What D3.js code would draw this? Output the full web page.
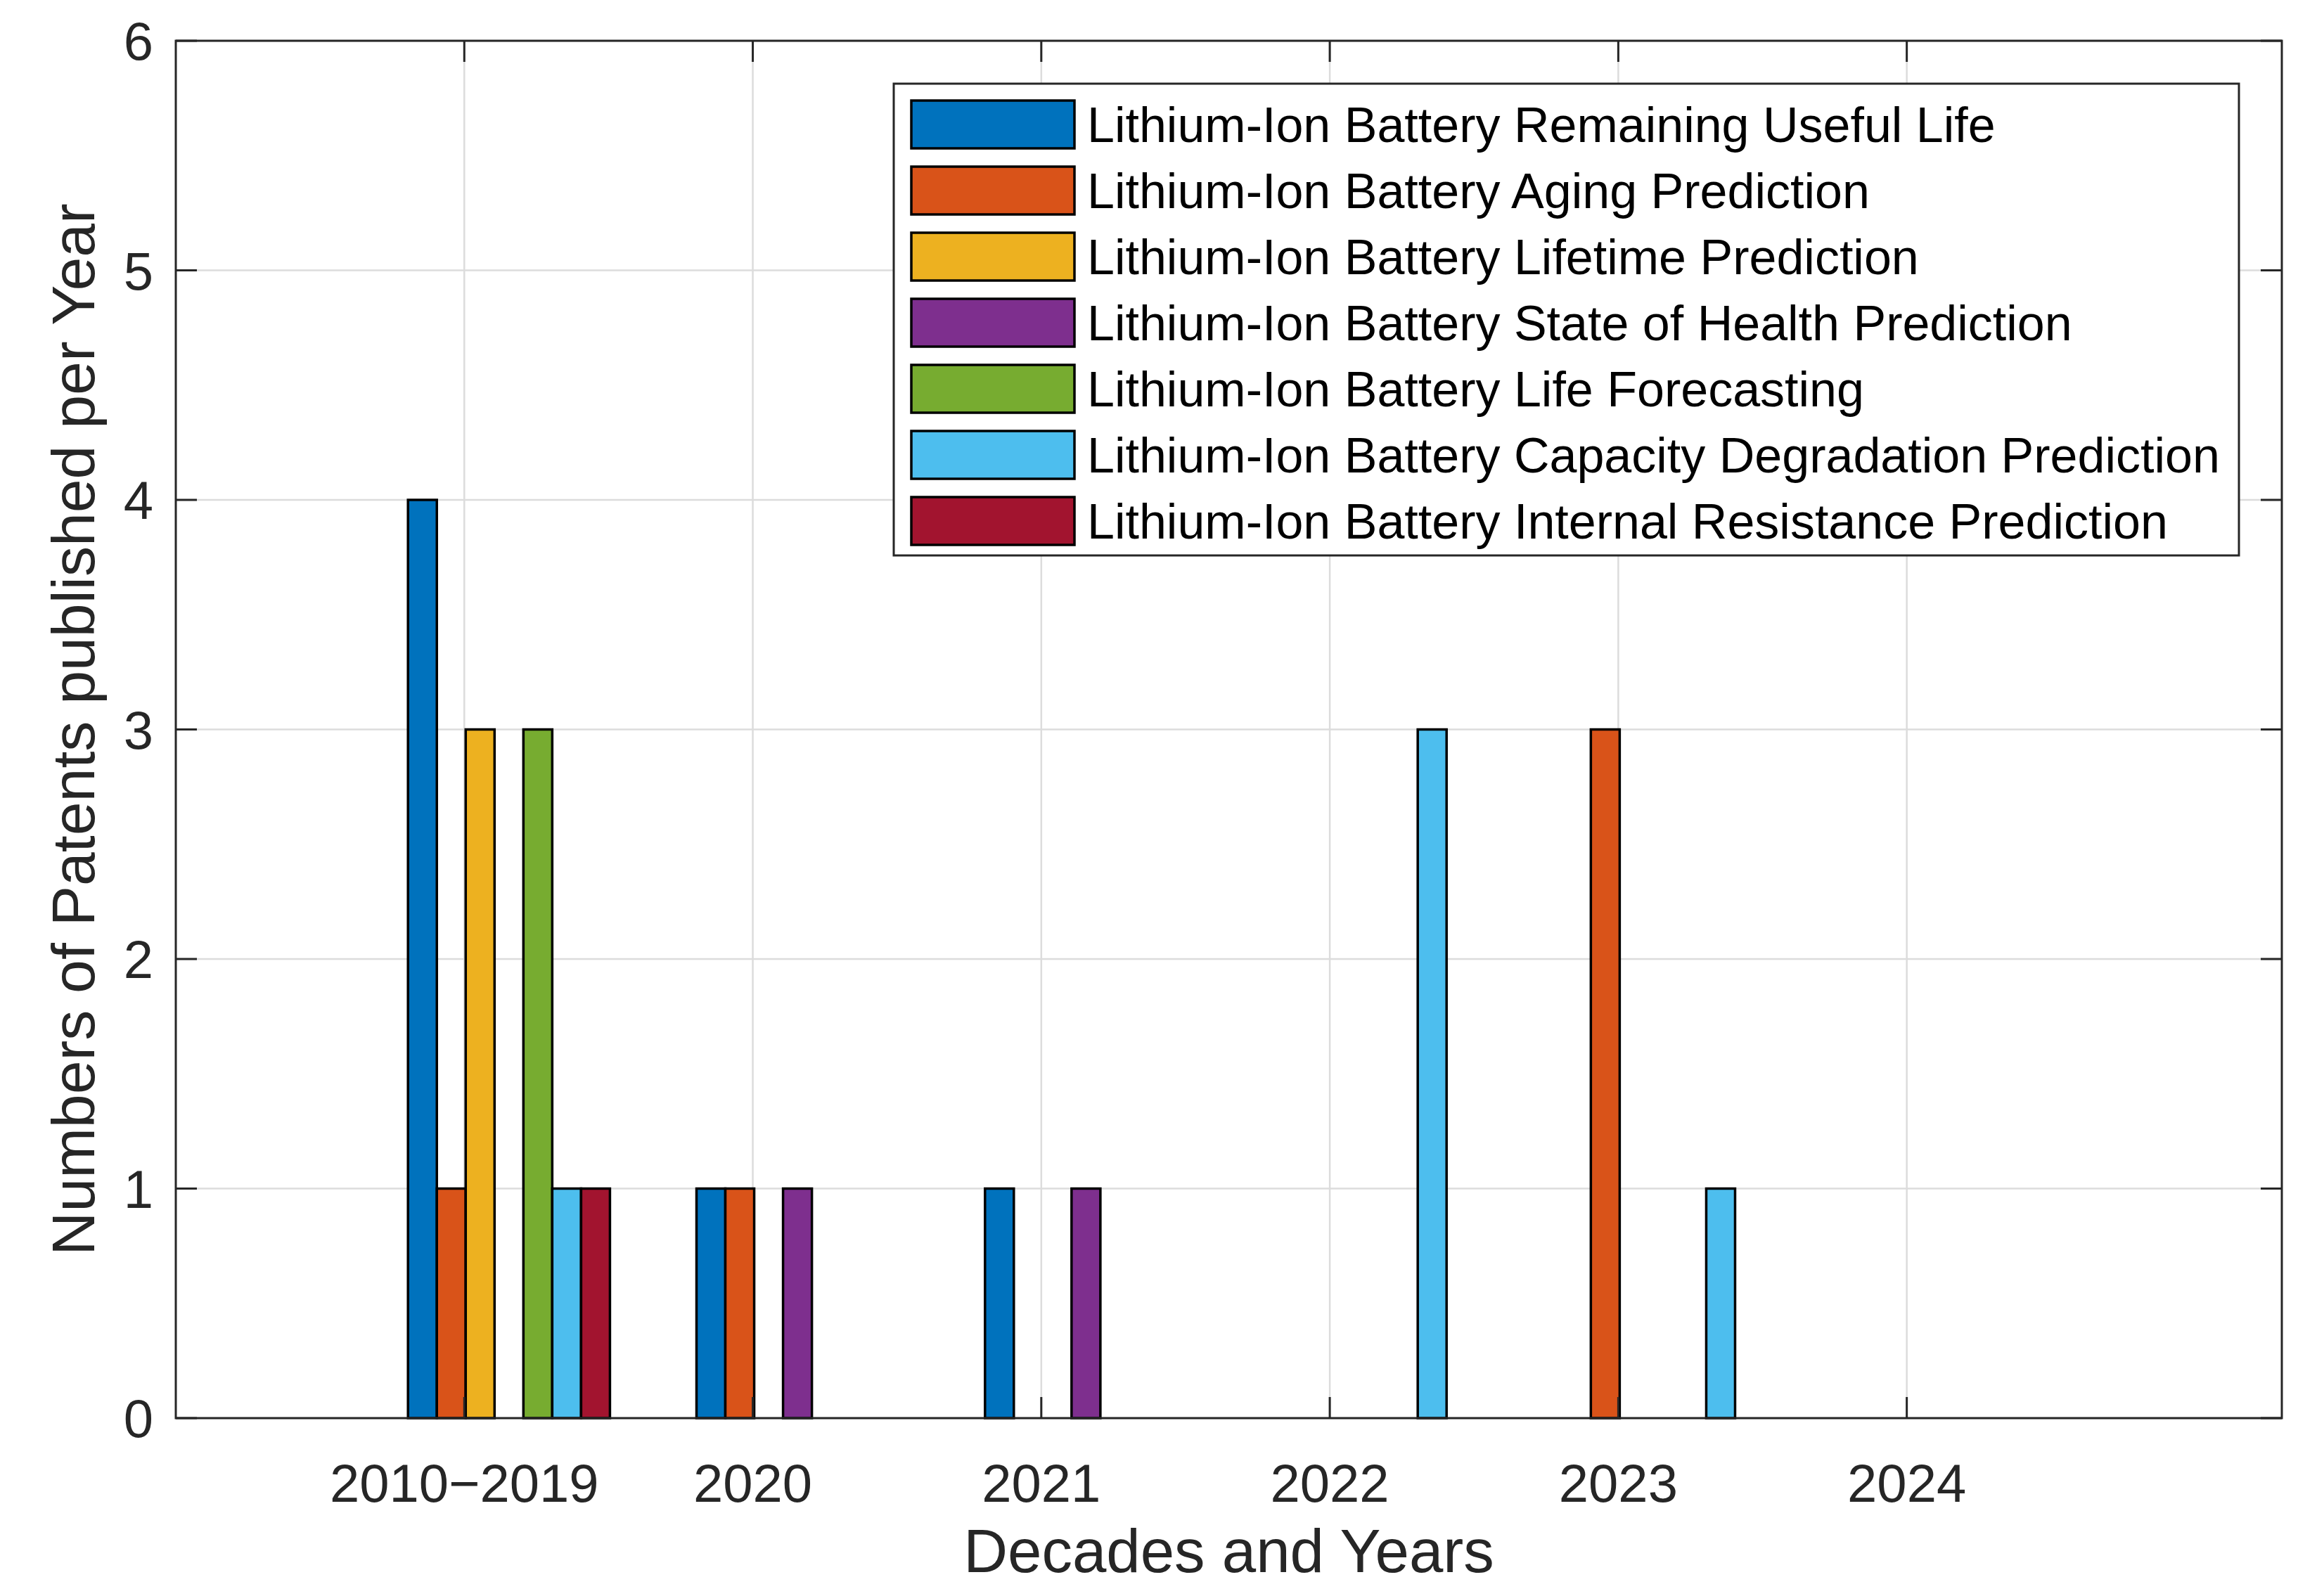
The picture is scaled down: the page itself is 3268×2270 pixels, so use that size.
<!DOCTYPE html>
<html>
<head>
<meta charset="utf-8">
<script src="https://cdn.jsdelivr.net/npm/d3@7"></script>
<style>
  html, body { margin: 0; padding: 0; background: #fff; }
  svg { display: block; font-family: "Liberation Sans", Arial, sans-serif; }
</style>
</head>
<body>
<svg id="chart" width="3268" height="2270"></svg>
<script>
// ---- data ----
const categories = ["2010\u22122019", "2020", "2021", "2022", "2023", "2024"];
const seriesNames = [
  "Lithium-Ion Battery Remaining Useful Life",
  "Lithium-Ion Battery Aging Prediction",
  "Lithium-Ion Battery Lifetime Prediction",
  "Lithium-Ion Battery State of Health Prediction",
  "Lithium-Ion Battery Life Forecasting",
  "Lithium-Ion Battery Capacity Degradation Prediction",
  "Lithium-Ion Battery Internal Resistance Prediction"
];
const remainingUsefulLife   = [4, 1, 1, 0, 0, 0];
const agingPrediction       = [1, 1, 0, 0, 3, 0];
const lifetimePrediction    = [3, 0, 0, 0, 0, 0];
const stateOfHealth         = [0, 1, 1, 0, 0, 0];
const lifeForecasting       = [3, 0, 0, 0, 0, 0];
const capacityDegradation   = [1, 0, 0, 3, 1, 0];
const internalResistance    = [1, 0, 0, 0, 0, 0];
const seriesValues = [remainingUsefulLife, agingPrediction, lifetimePrediction,
  stateOfHealth, lifeForecasting, capacityDegradation, internalResistance];
const colors = ["#0072BD", "#D95319", "#EDB120", "#7E2F8E", "#77AC30", "#4DBEEE", "#A2142F"];
const yTicks = [0, 1, 2, 3, 4, 5, 6];

// ---- layout ----
const L = 250, R = 3245, T = 58, B = 2017;
const axisColor = "#262626";
const svg = d3.select("#chart");

const x = d3.scaleLinear().domain([0, 7.3]).range([L, R]);
const y = d3.scaleLinear().domain([0, 6]).range([B, T]);
const barW = 0.1;
const tickLen = 30;

// grid
const grid = svg.append("g");
yTicks.forEach(v => {
  grid.append("line").attr("x1", L).attr("x2", R).attr("y1", y(v)).attr("y2", y(v))
    .attr("stroke", "#dcdcdc").attr("stroke-width", 2.5);
});
categories.forEach((c, i) => {
  grid.append("line").attr("x1", x(i + 1)).attr("x2", x(i + 1)).attr("y1", T).attr("y2", B)
    .attr("stroke", "#dcdcdc").attr("stroke-width", 2.5);
});

// bars
const bars = svg.append("g");
seriesValues.forEach((vals, s) => {
  vals.forEach((v, i) => {
    if (v <= 0) return;
    const x0 = x(i + 1 - 0.2 + barW * s) + 2;
    const x1 = x(i + 1 - 0.2 + barW * (s + 1)) + 2;
    bars.append("rect")
      .attr("x", x0).attr("y", y(v))
      .attr("width", x1 - x0).attr("height", y(0) - y(v))
      .attr("fill", colors[s]).attr("stroke", "#000").attr("stroke-width", 3.5);
  });
});

// axes box
svg.append("rect").attr("x", L).attr("y", T).attr("width", R - L).attr("height", B - T)
  .attr("fill", "none").attr("stroke", axisColor).attr("stroke-width", 3);

// ticks (inward, all four sides)
const ticks = svg.append("g").attr("stroke", axisColor).attr("stroke-width", 3);
yTicks.forEach(v => {
  ticks.append("line").attr("x1", L).attr("x2", L + tickLen).attr("y1", y(v)).attr("y2", y(v));
  ticks.append("line").attr("x1", R).attr("x2", R - tickLen).attr("y1", y(v)).attr("y2", y(v));
});
categories.forEach((c, i) => {
  ticks.append("line").attr("x1", x(i + 1)).attr("x2", x(i + 1)).attr("y1", B).attr("y2", B - tickLen);
  ticks.append("line").attr("x1", x(i + 1)).attr("x2", x(i + 1)).attr("y1", T).attr("y2", T + tickLen);
});

// tick labels
const labels = svg.append("g").attr("fill", axisColor).attr("font-size", 76);
yTicks.forEach(v => {
  labels.append("text").attr("x", L - 32).attr("y", y(v)).attr("dy", "0.36em")
    .attr("text-anchor", "end").text(v);
});
categories.forEach((c, i) => {
  labels.append("text").attr("x", x(i + 1)).attr("y", 2136)
    .attr("text-anchor", "middle").text(c);
});

// axis titles
svg.append("text").attr("x", (L + R) / 2).attr("y", 2236).attr("text-anchor", "middle")
  .attr("font-size", 87).attr("fill", axisColor).text("Decades and Years");
svg.append("text").attr("transform", `translate(134,${(T + B) / 2}) rotate(-90)`)
  .attr("text-anchor", "middle").attr("font-size", 86).attr("fill", axisColor)
  .text("Numbers of Patents published per Year");

// legend
const lg = svg.append("g");
const lgX = 1271, lgY = 119, lgW = 1913, lgH = 671;
lg.append("rect").attr("x", lgX).attr("y", lgY).attr("width", lgW).attr("height", lgH)
  .attr("fill", "#fff").attr("stroke", axisColor).attr("stroke-width", 3);
const rowH = 94, firstC = 177;
seriesNames.forEach((name, s) => {
  const cy = firstC + rowH * s;
  lg.append("rect").attr("x", 1296).attr("y", cy - 34).attr("width", 232).attr("height", 68)
    .attr("fill", colors[s]).attr("stroke", "#000").attr("stroke-width", 3.5);
  lg.append("text").attr("x", 1546).attr("y", cy).attr("dy", "0.36em")
    .attr("font-size", 70).attr("fill", "#000").text(name);
});
</script>
</body>
</html>
